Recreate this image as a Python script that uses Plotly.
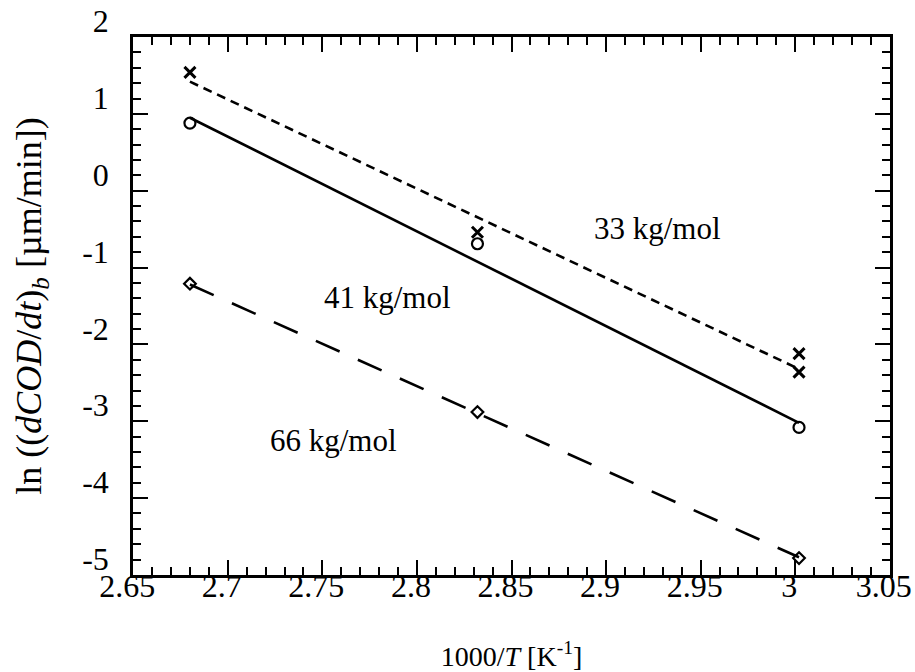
import plotly.graph_objects as go

# ---- data ----
x_33 = [2.680, 2.832, 3.002, 3.002]
y_33 = [1.54, -0.54, -2.12, -2.36]

x_41 = [2.680, 2.832, 3.002]
y_41 = [0.88, -0.69, -3.08]

x_66 = [2.680, 2.832, 3.002]
y_66 = [-1.21, -2.88, -4.78]

fit_x = [2.680, 3.002]
fit_33 = [1.42, -2.32]
fit_41 = [0.95, -3.02]
fit_66 = [-1.22, -4.77]

labels = ["33 kg/mol", "41 kg/mol", "66 kg/mol"]
label_x = [2.9274, 2.7842, 2.7557]
label_y = [-0.49, -1.39, -3.254]

x_tickvals = [2.65, 2.7, 2.75, 2.8, 2.85, 2.9, 2.95, 3.0, 3.05]
x_ticktext = ["2.65", "2.7", "2.75", "2.8", "2.85", "2.9", "2.95", "3", "3.05"]
y_tickvals = [2, 1, 0, -1, -2, -3, -4, -5]
y_ticktext = ["2", "1", "0", "-1", "-2", "-3", "-4", "-5"]

FONT = "Liberation Serif"
BLACK = "black"

fig = go.Figure()

# fitted lines
fig.add_trace(go.Scatter(x=fit_x, y=fit_33, mode="lines",
                         line=dict(color=BLACK, width=2.6, dash="9px,6px"),
                         showlegend=False, hoverinfo="skip"))
fig.add_trace(go.Scatter(x=fit_x, y=fit_41, mode="lines",
                         line=dict(color=BLACK, width=2.6),
                         showlegend=False, hoverinfo="skip"))
fig.add_trace(go.Scatter(x=fit_x, y=fit_66, mode="lines",
                         line=dict(color=BLACK, width=2.6, dash="26px,20px"),
                         showlegend=False, hoverinfo="skip"))

# markers
fig.add_trace(go.Scatter(x=x_33, y=y_33, mode="markers",
                         marker=dict(symbol="x-thin-open", size=11, color=BLACK,
                                     line=dict(color=BLACK, width=3)),
                         showlegend=False))
fig.add_trace(go.Scatter(x=x_41, y=y_41, mode="markers",
                         marker=dict(symbol="circle-open", size=11, color=BLACK,
                                     line=dict(color=BLACK, width=2.2)),
                         showlegend=False))
fig.add_trace(go.Scatter(x=x_66, y=y_66, mode="markers",
                         marker=dict(symbol="diamond-open", size=9, color=BLACK,
                                     line=dict(color=BLACK, width=2.2)),
                         showlegend=False))

for t, lx, ly in zip(labels, label_x, label_y):
    fig.add_annotation(x=lx, y=ly, text=t, showarrow=False,
                       font=dict(family=FONT, size=31, color=BLACK))

axis_common = dict(
    showline=True, linecolor=BLACK, linewidth=2.5, mirror="allticks",
    ticks="inside", tickcolor=BLACK, tickwidth=2.2, ticklen=15,
    showgrid=False, zeroline=False, automargin=False,
    ticklabeloverflow="allow",
    tickfont=dict(family=FONT, size=32, color=BLACK),
)

fig.update_xaxes(
    range=[2.6499, 3.0501], tickmode="array", tickvals=x_tickvals, ticktext=x_ticktext,
    minor=dict(dtick=0.01, ticks="inside", ticklen=8, tickcolor=BLACK, tickwidth=2.2),
    ticklabelstandoff=-19, ticklabelshift=-6,
    title=dict(text="1000/<i>T</i> [K<sup>-1</sup>]",
               font=dict(family=FONT, size=28, color=BLACK), standoff=50),
    **axis_common,
)
fig.update_yaxes(
    range=[-5.0005, 2.0005], tickmode="array", tickvals=y_tickvals, ticktext=y_ticktext,
    minor=dict(dtick=0.2, ticks="inside", ticklen=8, tickcolor=BLACK, tickwidth=2.2),
    ticklabelshift=-16, ticklabelstandoff=15,
    title=dict(text="ln ((<i>dCOD</i>/<i>dt</i>)<sub><i>b</i></sub> [µm/min])",
               font=dict(family=FONT, size=36, color=BLACK), standoff=30),
    **axis_common,
)

fig.update_layout(
    width=915, height=672,
    margin=dict(l=133, r=25, t=37, b=97),
    paper_bgcolor="white", plot_bgcolor="white",
    font=dict(family=FONT, color=BLACK),
    showlegend=False,
)

fig.write_html("out.html", config={"displayModeBar": False},
               post_script="document.body.style.margin='0';")
